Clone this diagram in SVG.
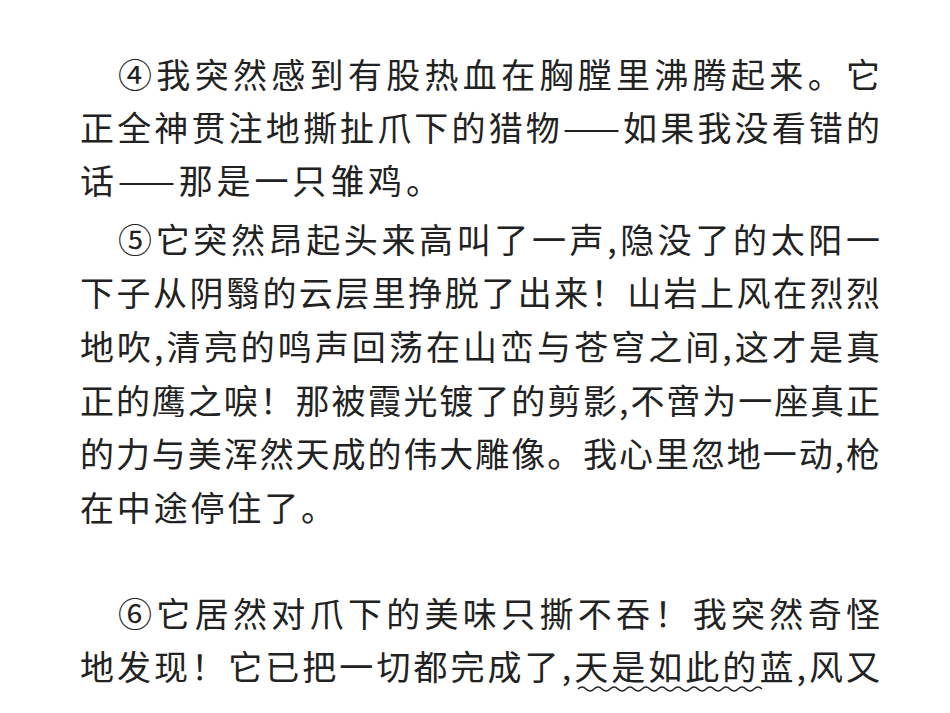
<svg xmlns="http://www.w3.org/2000/svg" width="950" height="713" viewBox="0 0 950 713">
<style>
text{font-family:"Noto Sans CJK SC","Noto Serif CJK SC",serif;font-size:34px;fill:#222}
</style>
<rect width="950" height="713" fill="#fff"/>
<text x="118" y="88" textLength="762" lengthAdjust="spacing">④我突然感到有股热血在胸膛里沸腾起来。它</text>
<text x="80" y="141" textLength="800" lengthAdjust="spacing">正全神贯注地撕扯爪下的猎物——如果我没看错的</text>
<text x="80" y="194" textLength="360" lengthAdjust="spacing">话——那是一只雏鸡。</text>
<text x="118" y="253" textLength="762" lengthAdjust="spacing">⑤它突然昂起头来高叫了一声,隐没了的太阳一</text>
<text x="80" y="306" textLength="800" lengthAdjust="spacing">下子从阴翳的云层里挣脱了出来！山岩上风在烈烈</text>
<text x="80" y="360" textLength="800" lengthAdjust="spacing">地吹,清亮的鸣声回荡在山峦与苍穹之间,这才是真</text>
<text x="80" y="414" textLength="800" lengthAdjust="spacing">正的鹰之唳！那被霞光镀了的剪影,不啻为一座真正</text>
<text x="80" y="467" textLength="800" lengthAdjust="spacing">的力与美浑然天成的伟大雕像。我心里忽地一动,枪</text>
<text x="80" y="521" textLength="255" lengthAdjust="spacing">在中途停住了。</text>
<text x="118" y="627" textLength="762" lengthAdjust="spacing">⑥它居然对爪下的美味只撕不吞！我突然奇怪</text>
<text x="80" y="680" textLength="800" lengthAdjust="spacing">地发现！它已把一切都完成了,天是如此的蓝,风又</text>
<path d="M578 689 q4 -4 8 0 t8 0 t8 0 t8 0 t8 0 t8 0 t8 0 t8 0 t8 0 t8 0 t8 0 t8 0 t8 0 t8 0 t8 0 t8 0 t8 0 t8 0 t8 0 t8 0 t8 0 t8 0 t8 0" fill="none" stroke="#222" stroke-width="1.5"/>
</svg>
